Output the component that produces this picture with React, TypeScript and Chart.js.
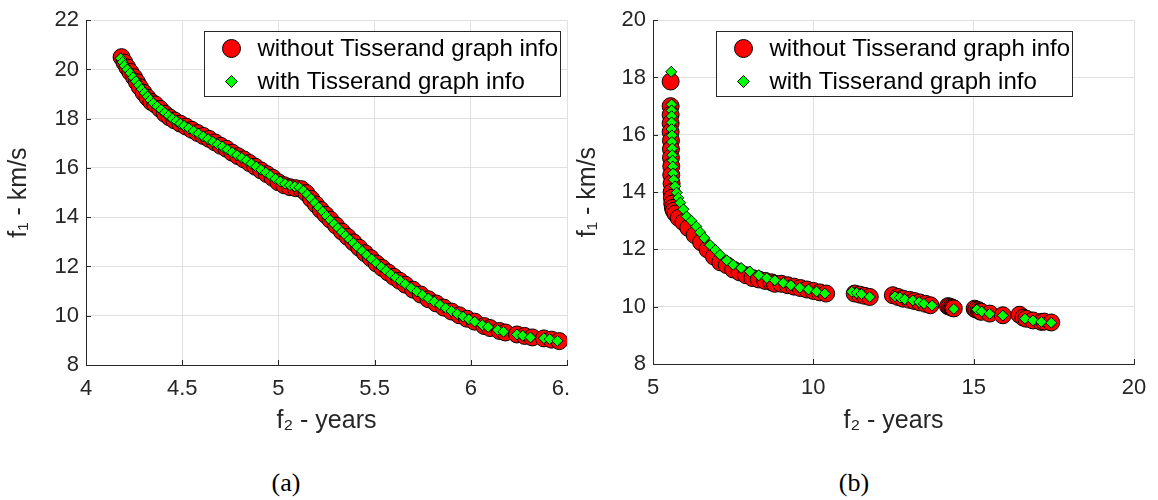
import React, { useEffect, useRef } from "react";
import { Chart, registerables } from "chart.js";

Chart.register(...registerables);

// ---------- Panel (a) data ----------
const aWithoutF2 = [4.185, 4.2, 4.215, 4.23, 4.25, 4.265, 4.28, 4.3, 4.32, 4.34, 4.36, 4.385, 4.41, 4.435, 4.46, 4.49, 4.52, 4.55, 4.58, 4.61, 4.64, 4.67, 4.7, 4.73, 4.76, 4.79, 4.82, 4.85, 4.88, 4.91, 4.94, 4.97, 5.0, 5.03, 5.06, 5.09, 5.12, 5.145, 5.17, 5.195, 5.22, 5.245, 5.27, 5.3, 5.33, 5.36, 5.39, 5.42, 5.45, 5.48, 5.51, 5.54, 5.57, 5.6, 5.63, 5.66, 5.7, 5.74, 5.78, 5.82, 5.86, 5.9, 5.94, 5.98, 6.02, 6.07, 6.1, 6.15, 6.18, 6.24, 6.28, 6.32, 6.38, 6.42, 6.46];
const aWithoutF1 = [20.5, 20.28, 20.08, 19.9, 19.68, 19.48, 19.28, 19.05, 18.85, 18.68, 18.58, 18.4, 18.2, 18.05, 17.93, 17.8, 17.68, 17.55, 17.42, 17.3, 17.18, 17.04, 16.9, 16.78, 16.62, 16.48, 16.35, 16.2, 16.05, 15.9, 15.75, 15.6, 15.42, 15.3, 15.22, 15.18, 15.14, 14.98, 14.75, 14.52, 14.3, 14.1, 13.9, 13.66, 13.42, 13.2, 12.98, 12.76, 12.54, 12.34, 12.12, 11.94, 11.76, 11.58, 11.42, 11.26, 11.06, 10.86, 10.67, 10.5, 10.33, 10.17, 10.02, 9.88, 9.76, 9.58, 9.5, 9.38, 9.32, 9.24, 9.18, 9.12, 9.08, 9.03, 8.97];

const aWithF2 = [4.18, 4.19, 4.2, 4.215, 4.23, 4.245, 4.26, 4.275, 4.29, 4.305, 4.32, 4.335, 4.35, 4.37, 4.39, 4.41, 4.43, 4.45, 4.47, 4.49, 4.51, 4.535, 4.56, 4.585, 4.61, 4.635, 4.66, 4.685, 4.71, 4.735, 4.76, 4.785, 4.81, 4.835, 4.86, 4.885, 4.91, 4.935, 4.96, 4.985, 5.01, 5.035, 5.06, 5.085, 5.11, 5.13, 5.15, 5.17, 5.19, 5.21, 5.23, 5.25, 5.27, 5.29, 5.31, 5.33, 5.35, 5.37, 5.39, 5.41, 5.435, 5.46, 5.485, 5.51, 5.535, 5.56, 5.585, 5.61, 5.635, 5.66, 5.69, 5.72, 5.75, 5.78, 5.81, 5.84, 5.87, 5.9, 5.93, 5.96, 5.99, 6.02, 6.06, 6.09, 6.14, 6.17, 6.24, 6.27, 6.31, 6.38, 6.41, 6.45];
const aWithF1 = [20.45, 20.3, 20.15, 20.0, 19.85, 19.68, 19.52, 19.36, 19.2, 19.05, 18.9, 18.76, 18.63, 18.5, 18.37, 18.24, 18.12, 18.0, 17.9, 17.8, 17.71, 17.61, 17.5, 17.39, 17.28, 17.17, 17.06, 16.96, 16.86, 16.75, 16.63, 16.52, 16.41, 16.3, 16.18, 16.05, 15.93, 15.81, 15.68, 15.56, 15.45, 15.36, 15.3, 15.25, 15.2, 15.08, 14.92, 14.75, 14.58, 14.4, 14.23, 14.05, 13.88, 13.72, 13.56, 13.4, 13.25, 13.1, 12.95, 12.8, 12.63, 12.46, 12.3, 12.13, 11.98, 11.83, 11.68, 11.54, 11.41, 11.28, 11.13, 10.98, 10.84, 10.7, 10.57, 10.44, 10.31, 10.19, 10.07, 9.96, 9.86, 9.76, 9.62, 9.54, 9.42, 9.35, 9.24, 9.19, 9.12, 9.09, 9.05, 8.98];

// ---------- Panel (b) data ----------
const bWithoutF2 = [5.55, 5.55, 5.55, 5.55, 5.55, 5.56, 5.56, 5.56, 5.57, 5.57, 5.58, 5.58, 5.59, 5.6, 5.62, 5.65, 5.7, 5.8, 5.95, 6.1, 6.3, 6.5, 6.7, 6.9, 7.1, 7.3, 7.5, 7.7, 7.9, 8.1, 8.3, 8.5, 8.7, 8.8, 9.0, 9.2, 9.4, 9.6, 9.8, 10.0, 10.2, 10.4, 11.29, 11.45, 11.6, 11.76, 12.48, 12.64, 12.8, 13.0, 13.15, 13.32, 13.5, 13.65, 14.2, 14.25, 14.3, 14.34, 14.38, 15.03, 15.08, 15.15, 15.2, 15.24, 15.5, 15.91, 16.43, 16.55, 16.64, 16.85, 17.11, 17.2, 17.42];
const bWithoutF1 = [17.86, 17.0, 16.7, 16.4, 16.1, 15.8, 15.5, 15.2, 14.9, 14.6, 14.3, 14.0, 13.8, 13.6, 13.45, 13.35, 13.25, 13.1, 12.95, 12.75, 12.5, 12.25, 12.0, 11.75, 11.55, 11.45, 11.3, 11.2, 11.1, 11.0, 10.95, 10.9, 10.85, 10.8, 10.8, 10.75, 10.7, 10.65, 10.6, 10.55, 10.5, 10.46, 10.46, 10.42, 10.38, 10.34, 10.4, 10.34, 10.28, 10.24, 10.2, 10.15, 10.1, 10.05, 10.02, 10.0, 9.98, 9.96, 9.94, 9.93, 9.9, 9.88, 9.84, 9.82, 9.76, 9.7, 9.72, 9.62, 9.58, 9.52, 9.47, 9.48, 9.45];

const bWithF2 = [5.57, 5.58, 5.58, 5.58, 5.58, 5.58, 5.59, 5.59, 5.6, 5.6, 5.61, 5.62, 5.63, 5.65, 5.69, 5.74, 5.79, 5.85, 5.95, 6.05, 6.2, 6.35, 6.47, 6.6, 6.78, 6.95, 7.09, 7.3, 7.5, 7.75, 8.02, 8.3, 8.55, 8.8, 9.06, 9.3, 9.58, 9.85, 10.1, 10.36, 11.2, 11.35, 11.5, 11.76, 12.55, 12.7, 12.85, 13.1, 13.3, 13.45, 13.7, 14.38, 15.1, 15.25, 15.5, 15.91, 16.6, 16.85, 17.11, 17.42];
const bWithF1 = [18.2, 17.06, 16.85, 16.65, 16.43, 16.2, 15.98, 15.75, 15.52, 15.29, 15.1, 14.89, 14.65, 14.43, 14.2, 13.98, 13.8, 13.63, 13.4, 13.15, 13.0, 12.8, 12.6, 12.4, 12.15, 11.98, 11.81, 11.62, 11.46, 11.35, 11.23, 11.1, 11.0, 10.92, 10.83, 10.75, 10.66, 10.6, 10.53, 10.46, 10.52, 10.48, 10.44, 10.34, 10.36, 10.32, 10.26, 10.22, 10.16, 10.1, 10.04, 9.92, 9.9, 9.83, 9.75, 9.69, 9.58, 9.52, 9.47, 9.44];

const seriesLabels = ["without Tisserand graph info", "with Tisserand graph info"];
const xTitle = "f\u2082 - years";
const yTitle = "f\u2081 - km/s";
const captions = ["(a)", "(b)"];

const FONT = "'Liberation Sans', Arial, Helvetica, sans-serif";
const SERIF = "'Liberation Serif', 'Times New Roman', Times, serif";
const INK = "#262626";
const GRID = "#e0e0e0";

function zip(xs: number[], ys: number[]) {
  const n = Math.min(xs.length, ys.length);
  const out: { x: number; y: number }[] = [];
  for (let i = 0; i < n; i++) out.push({ x: xs[i], y: ys[i] });
  return out;
}

// short inward tick marks like MATLAB axes
const innerTicks = {
  id: "innerTicks",
  afterDatasetsDraw(chart: any) {
    const { ctx, chartArea, scales } = chart;
    const len = 5;
    ctx.save();
    ctx.strokeStyle = INK;
    ctx.lineWidth = 1;
    ctx.beginPath();
    scales.x.ticks.forEach((t: any) => {
      const px = Math.round(scales.x.getPixelForValue(t.value)) + 0.5;
      ctx.moveTo(px, chartArea.bottom);
      ctx.lineTo(px, chartArea.bottom - len);
    });
    scales.y.ticks.forEach((t: any) => {
      const py = Math.round(scales.y.getPixelForValue(t.value)) + 0.5;
      ctx.moveTo(chartArea.left, py);
      ctx.lineTo(chartArea.left + len, py);
    });
    ctx.stroke();
    ctx.restore();
  },
};

const matlabLegend = {
  id: "matlabLegend",
  afterDraw(chart: any, _args: any, opts: any) {
    if (!opts || !opts.show) return;
    const { ctx, chartArea } = chart;
    const x0 = Math.round(chartArea.left + opts.offsetX) + 0.5;
    const y0 = Math.round(chartArea.top + opts.offsetY) + 0.5;
    ctx.save();
    ctx.fillStyle = "#ffffff";
    ctx.fillRect(x0, y0, opts.width, opts.height);
    ctx.strokeStyle = INK;
    ctx.lineWidth = 1;
    ctx.strokeRect(x0, y0, opts.width, opts.height);
    const ds = chart.data.datasets;
    ds.forEach((d: any, i: number) => {
      const cy = y0 + opts.rowTop + i * opts.rowGap;
      const cx = x0 + opts.markerX;
      const r = d.legendRadius;
      ctx.beginPath();
      if (d.pointStyle === "circle") {
        ctx.arc(cx, cy, r, 0, Math.PI * 2);
      } else {
        ctx.moveTo(cx - r, cy);
        ctx.lineTo(cx, cy - r);
        ctx.lineTo(cx + r, cy);
        ctx.lineTo(cx, cy + r);
        ctx.closePath();
      }
      ctx.fillStyle = d.backgroundColor;
      ctx.fill();
      ctx.strokeStyle = "#000";
      ctx.lineWidth = 1;
      ctx.stroke();
      ctx.fillStyle = "#000";
      ctx.font = `${opts.fontSize}px ${FONT}`;
      ctx.textAlign = "left";
      ctx.textBaseline = "middle";
      ctx.fillText(d.label, x0 + opts.textX, cy + 1);
    });
    ctx.restore();
  },
};

type PanelCfg = {
  xMin: number; xMax: number; xStep: number;
  yMin: number; yMax: number; yStep: number;
  without: { x: number[]; y: number[] };
  withT: { x: number[]; y: number[] };
  padRight: number;
  padTop: number;
  plotHeight: number;
  yWidth: number;
  yTitlePad: number;
  legendX: number;
};

function buildConfig(c: PanelCfg): any {
  const tickFont = { family: FONT, size: 22 };
  const titleFont = { family: FONT, size: 25, lineHeight: 1 };
  return {
    type: "scatter",
    data: {
      datasets: [
        {
          label: seriesLabels[0],
          data: zip(c.without.x, c.without.y),
          pointStyle: "circle",
          pointRadius: 8.5,
          pointHoverRadius: 8.5,
          backgroundColor: "#ff0000",
          borderColor: "#000000",
          borderWidth: 1,
          legendRadius: 9,
          order: 1,
        },
        {
          label: seriesLabels[1],
          data: zip(c.withT.x, c.withT.y),
          pointStyle: "rectRot",
          pointRadius: 5.5,
          pointHoverRadius: 5.5,
          backgroundColor: "#00ff00",
          borderColor: "#000000",
          borderWidth: 1,
          legendRadius: 6,
          order: 0,
        },
      ],
    },
    options: {
      animation: false,
      responsive: false,
      maintainAspectRatio: false,
      events: [],
      layout: { padding: { left: 0, top: c.padTop, right: c.padRight, bottom: 0 } },
      plugins: {
        legend: { display: false },
        tooltip: { enabled: false },
        matlabLegend: {
          show: true,
          offsetX: c.legendX,
          offsetY: 11,
          width: 356,
          height: 65,
          rowTop: 17,
          rowGap: 33,
          markerX: 27,
          textX: 53,
          fontSize: 24,
        },
      },
      scales: {
        x: {
          type: "linear",
          min: c.xMin,
          max: c.xMax,
          ticks: {
            stepSize: c.xStep, color: INK, font: tickFont, padding: 11, maxRotation: 0, autoSkip: false,
            callback: (v: any) => String(Math.round(Number(v) * 100) / 100),
          },
          grid: { color: GRID, lineWidth: 1, drawTicks: false },
          border: { color: INK, width: 1 },
          title: { display: true, text: xTitle, color: INK, font: titleFont, padding: { top: 0, bottom: 6 } },
          afterFit: (s: any) => { s.height = 440 - (c.padTop + c.plotHeight); },
        },
        y: {
          type: "linear",
          min: c.yMin,
          max: c.yMax,
          ticks: {
            stepSize: c.yStep, color: INK, font: tickFont, padding: 7,
            callback: (v: any) => String(Math.round(Number(v) * 100) / 100),
          },
          grid: { color: GRID, lineWidth: 1, drawTicks: false },
          border: { color: INK, width: 1 },
          title: { display: true, text: yTitle, color: INK, font: titleFont, padding: { top: c.yTitlePad, bottom: 0 } },
          afterFit: (s: any) => { s.width = c.yWidth; },
        },
      },
    },
    plugins: [innerTicks, matlabLegend],
  };
}

const panelA: PanelCfg = {
  xMin: 4, xMax: 6.5, xStep: 0.5,
  yMin: 8, yMax: 22, yStep: 2,
  without: { x: aWithoutF2, y: aWithoutF1 },
  withT: { x: aWithF2, y: aWithF1 },
  padRight: 33, padTop: 15, plotHeight: 350, yWidth: 86, yTitlePad: 7, legendX: 118,
};

const panelB: PanelCfg = {
  xMin: 5, xMax: 20, xStep: 5,
  yMin: 8, yMax: 20, yStep: 2,
  without: { x: bWithoutF2, y: bWithoutF1 },
  withT: { x: bWithF2, y: bWithF1 },
  padRight: 24, padTop: 15, plotHeight: 349, yWidth: 84, yTitlePad: 7, legendX: 63,
};

function Panel({ cfg, left, width }: { cfg: PanelCfg; left: number; width: number }) {
  const ref = useRef<HTMLCanvasElement | null>(null);
  useEffect(() => {
    if (!ref.current) return;
    const chart = new Chart(ref.current, buildConfig(cfg));
    return () => chart.destroy();
  }, [cfg]);
  return (
    <canvas
      ref={ref}
      width={width}
      height={440}
      style={{ position: "absolute", left, top: 0, width, height: 440, background: "#ffffff", display: "block" }}
    />
  );
}

export default function App() {
  const capStyle = (cx: number): React.CSSProperties => ({
    position: "absolute",
    left: cx - 50,
    width: 100,
    top: 468,
    lineHeight: "30px",
    textAlign: "center",
    fontFamily: SERIF,
    fontSize: 26,
    color: "#000",
  });
  return (
    <div style={{ position: "absolute", left: 0, top: 0, width: 1158, height: 500, background: "#ffffff", overflow: "hidden" }}>
      <Panel cfg={panelA} left={0} width={600} />
      <Panel cfg={panelB} left={569} width={589} />
      <div style={capStyle(286)}>{captions[0]}</div>
      <div style={capStyle(854)}>{captions[1]}</div>
    </div>
  );
}
